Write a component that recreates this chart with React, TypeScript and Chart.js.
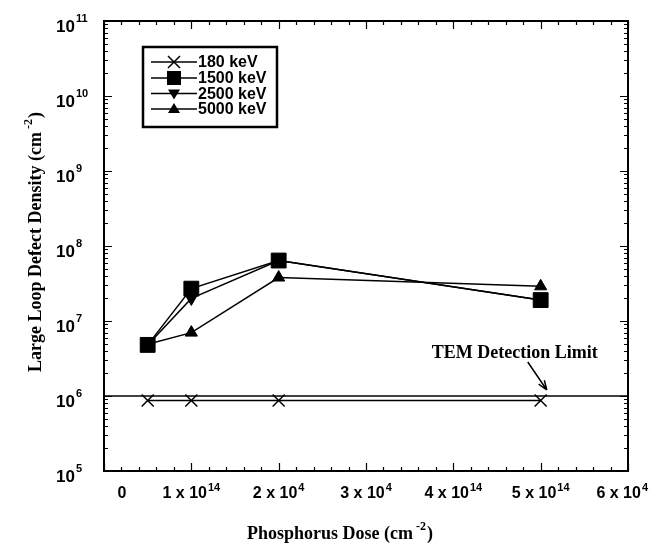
import React, { useEffect, useRef } from 'react';
import { Chart, registerables } from 'chart.js';

Chart.register(...registerables);

// ---------- data ----------
const doses = [0.5e14, 1e14, 2e14, 5e14];
const series180 = [8.7e5, 8.7e5, 8.7e5, 8.7e5];
const series1500 = [4.8e6, 2.7e7, 6.4e7, 1.9e7];
const series2500 = [4.8e6, 2.0e7, 6.4e7, 1.9e7];
const series5000 = [4.9e6, 7.0e6, 3.8e7, 2.9e7];
const seriesLabels = ['180 keV', '1500 keV', '2500 keV', '5000 keV'];
const detectionLimit = 1e6;
const detectionLabel = 'TEM Detection Limit';
const xMin = 0;
const xMax = 6e14;
const yMin = 1e5;
const yMax = 1e11;
const xTickValues = [0, 1e14, 2e14, 3e14, 4e14, 5e14, 6e14];
const xTickMain = ['0', '1 x 10', '2 x 10', '3 x 10', '4 x 10', '5 x 10', '6 x 10'];
const xTickSup = ['', '14', '4', '4', '14', '14', '4'];
const yTickExponents = [5, 6, 7, 8, 9, 10, 11];
const xTitleParts = ['Phosphorus Dose (cm', '-2', ')'];
const yTitleParts = ['Large Loop Defect Density (cm', '-2', ')'];

const SANS = '"Liberation Sans", Arial, sans-serif';
const SERIF = '"Liberation Serif", "Times New Roman", serif';

const toPts = (vals: number[]) => doses.map((d, i) => ({ x: d, y: vals[i] }));

function drawMarker(ctx: CanvasRenderingContext2D, kind: string, x: number, y: number) {
  ctx.save();
  ctx.fillStyle = '#000';
  ctx.strokeStyle = '#000';
  ctx.lineWidth = 1.5;
  if (kind === 'cross') {
    const s = 6;
    ctx.beginPath();
    ctx.moveTo(x - s, y - s); ctx.lineTo(x + s, y + s);
    ctx.moveTo(x + s, y - s); ctx.lineTo(x - s, y + s);
    ctx.stroke();
  } else if (kind === 'square') {
    ctx.fillRect(x - 7, y - 7, 14, 14);
  } else if (kind === 'down') {
    ctx.beginPath();
    ctx.moveTo(x - 6, y - 4); ctx.lineTo(x + 6, y - 4); ctx.lineTo(x, y + 6);
    ctx.closePath(); ctx.fill();
  } else {
    ctx.beginPath();
    ctx.moveTo(x - 6, y + 4); ctx.lineTo(x + 6, y + 4); ctx.lineTo(x, y - 6);
    ctx.closePath(); ctx.fill();
  }
  ctx.restore();
}

const decorPlugin = {
  id: 'decor',
  afterDraw(chart: any) {
    const { ctx, chartArea: a, scales } = chart;
    const xs = scales.x;
    const ys = scales.y;
    ctx.save();
    ctx.strokeStyle = '#000';
    ctx.fillStyle = '#000';

    // frame
    ctx.lineWidth = 2;
    ctx.strokeRect(a.left, a.top, a.right - a.left, a.bottom - a.top);

    // x ticks (major every 1e14, minor every 0.2e14)
    ctx.lineWidth = 1.2;
    ctx.beginPath();
    for (let i = 0; i <= 30; i++) {
      const px = Math.round(xs.getPixelForValue(i * 0.2e14)) + 0.5;
      const len = i % 5 === 0 ? 8 : 4;
      ctx.moveTo(px, a.bottom); ctx.lineTo(px, a.bottom - len);
      ctx.moveTo(px, a.top); ctx.lineTo(px, a.top + len);
    }
    // y ticks (major each decade, minor 2..9)
    for (let e = 5; e <= 10; e++) {
      for (let m = 1; m <= 9; m++) {
        const py = Math.round(ys.getPixelForValue(m * Math.pow(10, e))) + 0.5;
        const len = m === 1 ? 8 : 4;
        ctx.moveTo(a.left, py); ctx.lineTo(a.left + len, py);
        ctx.moveTo(a.right, py); ctx.lineTo(a.right - len, py);
      }
    }
    ctx.stroke();

    // x tick labels
    const xMainFont = 'bold 16px ' + SANS;
    const xSupFont = 'bold 11px ' + SANS;
    ctx.textBaseline = 'alphabetic';
    ctx.textAlign = 'left';
    xTickValues.forEach((v, i) => {
      let cx = xs.getPixelForValue(v);
      if (v === 0) cx += 18;
      ctx.font = xMainFont;
      const wm = ctx.measureText(xTickMain[i]).width;
      ctx.font = xSupFont;
      const wsup = xTickSup[i] ? ctx.measureText(xTickSup[i]).width + 1 : 0;
      const total = wm + wsup;
      let left = cx - total / 2;
      if (left + total > chart.width - 1) left = chart.width - 1 - total;
      ctx.font = xMainFont;
      ctx.fillText(xTickMain[i], left, a.bottom + 27);
      if (xTickSup[i]) {
        ctx.font = xSupFont;
        ctx.fillText(xTickSup[i], left + wm + 1, a.bottom + 20);
      }
    });

    // y tick labels
    yTickExponents.forEach((e) => {
      const py = ys.getPixelForValue(Math.pow(10, e));
      ctx.font = 'bold 17px ' + SANS;
      ctx.fillText('10', 56, py + 11);
      const w = ctx.measureText('10').width;
      ctx.font = 'bold 11px ' + SANS;
      ctx.fillText(String(e), 56 + w + 1, py + 1);
    });

    // axis titles
    const drawParts = (parts: string[], x: number, y: number) => {
      const big = 'bold 18px ' + SERIF;
      const small = 'bold 12px ' + SERIF;
      ctx.font = big;
      const w0 = ctx.measureText(parts[0]).width;
      const w2 = ctx.measureText(parts[2]).width;
      ctx.font = small;
      const w1 = ctx.measureText(parts[1]).width + 4;
      const total = w0 + w1 + w2;
      const left = x - total / 2;
      ctx.font = big;
      ctx.fillText(parts[0], left, y);
      ctx.font = small;
      ctx.fillText(parts[1], left + w0 + 3, y - 9);
      ctx.font = big;
      ctx.fillText(parts[2], left + w0 + w1, y);
    };
    drawParts(xTitleParts, 340, 539);
    ctx.save();
    ctx.translate(41, 242);
    ctx.rotate(-Math.PI / 2);
    drawParts(yTitleParts, 0, 0);
    ctx.restore();

    // detection limit annotation
    const tipX = xs.getPixelForValue(5.07e14);
    const tipY = ys.getPixelForValue(detectionLimit) - 6;
    const tailX = tipX - 19;
    const tailY = tipY - 28;
    ctx.lineWidth = 1.5;
    ctx.beginPath();
    ctx.moveTo(tailX, tailY); ctx.lineTo(tipX, tipY);
    const ang = Math.atan2(tipY - tailY, tipX - tailX);
    const hl = 10;
    ctx.moveTo(tipX, tipY);
    ctx.lineTo(tipX - hl * Math.cos(ang - 0.35), tipY - hl * Math.sin(ang - 0.35));
    ctx.moveTo(tipX, tipY);
    ctx.lineTo(tipX - hl * Math.cos(ang + 0.35), tipY - hl * Math.sin(ang + 0.35));
    ctx.stroke();
    ctx.font = 'bold 18px ' + SERIF;
    ctx.fillText(detectionLabel, tipX - 115, tipY - 32);

    // legend
    const bx = 143, by = 47, bw = 134, bh = 80;
    ctx.lineWidth = 2.5;
    ctx.strokeRect(bx, by, bw, bh);
    const kinds = ['cross', 'square', 'down', 'up'];
    const rowY = [62, 78, 93.5, 109];
    ctx.textBaseline = 'middle';
    seriesLabels.forEach((lab, i) => {
      ctx.lineWidth = 1.5;
      ctx.beginPath();
      ctx.moveTo(151, rowY[i]); ctx.lineTo(197, rowY[i]);
      ctx.stroke();
      drawMarker(ctx, kinds[i], 174, rowY[i]);
      ctx.fillStyle = '#000';
      ctx.font = 'bold 16px ' + SANS;
      ctx.fillText(lab, 198, rowY[i] + 1);
    });

    ctx.restore();
  },
};

export default function App() {
  const ref = useRef<HTMLCanvasElement | null>(null);
  useEffect(() => {
    if (!ref.current) return;
    const common = { borderColor: '#000', backgroundColor: '#000', borderWidth: 1.5, tension: 0, pointBorderColor: '#000', pointBackgroundColor: '#000' };
    const chart = new Chart(ref.current, {
      type: 'line',
      data: {
        datasets: [
          { ...common, label: seriesLabels[0], data: toPts(series180), pointStyle: 'crossRot', pointRadius: 8.5, pointBorderWidth: 1.5 },
          { ...common, label: seriesLabels[1], data: toPts(series1500), pointStyle: 'rect', pointRadius: 10.5, pointBorderWidth: 1 },
          { ...common, label: seriesLabels[2], data: toPts(series2500), pointStyle: 'triangle', pointRotation: 180, pointRadius: 7, pointBorderWidth: 1 },
          { ...common, label: seriesLabels[3], data: toPts(series5000), pointStyle: 'triangle', pointRadius: 7, pointBorderWidth: 1 },
          { ...common, label: 'limit', data: [{ x: xMin, y: detectionLimit }, { x: xMax, y: detectionLimit }], pointRadius: 0 },
        ] as any,
      },
      options: {
        animation: false,
        responsive: false,
        devicePixelRatio: 1,
        layout: { padding: { left: 104, right: 21, top: 21, bottom: 79 } },
        scales: {
          x: { type: 'linear', min: xMin, max: xMax, display: false },
          y: { type: 'logarithmic', min: yMin, max: yMax, display: false },
        },
        plugins: { legend: { display: false }, tooltip: { enabled: false } },
      } as any,
      plugins: [decorPlugin],
    });
    return () => chart.destroy();
  }, []);
  return (
    <div style={{ position: 'fixed', left: 0, top: 0, width: 649, height: 550, background: '#fff' }}>
      <canvas ref={ref} width={649} height={550} style={{ display: 'block' }} />
    </div>
  );
}
